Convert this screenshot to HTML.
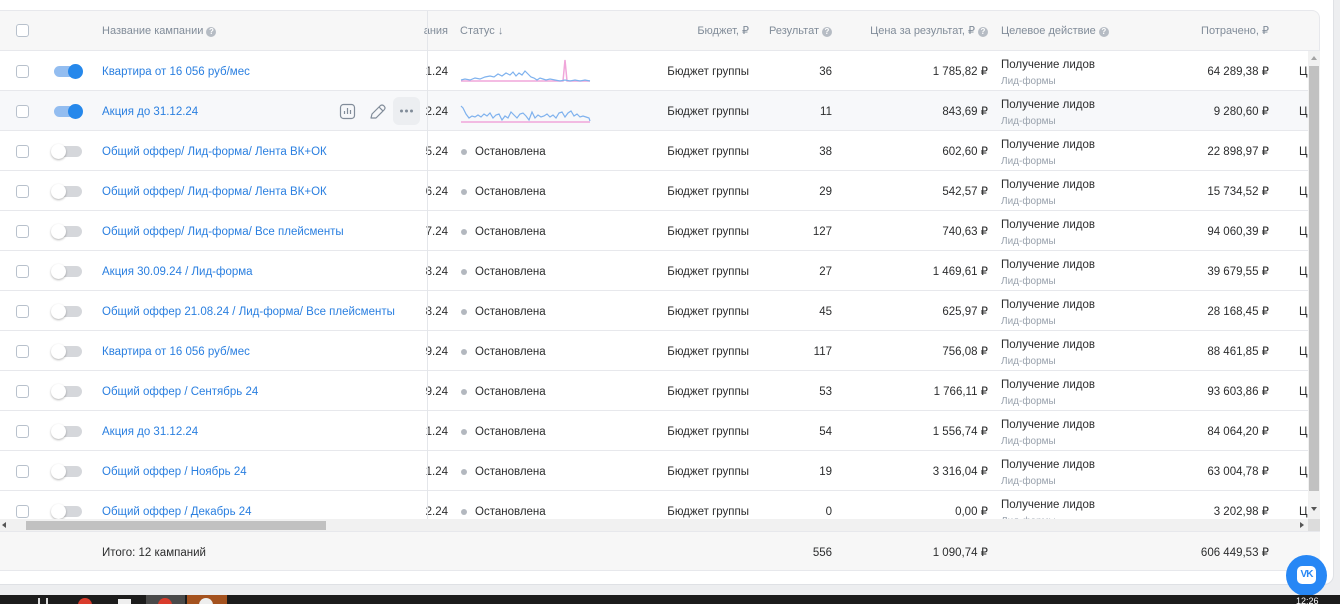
<!DOCTYPE html>
<html><head><meta charset="utf-8">
<style>
*{box-sizing:border-box}
body{margin:0;width:1340px;height:604px;overflow:hidden;background:#edeef0;font-family:"Liberation Sans","DejaVu Sans",sans-serif;}
#root{position:relative;width:1340px;height:604px;overflow:hidden;background:#edeef0;}
.a{position:absolute}
.card{left:-10px;top:-10px;width:1344px;height:595px;background:#fff;border:1px solid #dfe1e5;border-radius:10px}
.hdr{left:0;top:10px;width:1320px;height:41px;background:#f7f7f7;border-top:1px solid #e7e8ec;border-bottom:1px solid #e7e8ec;border-top-right-radius:8px;border-right:1px solid #e7e8ec}
.ht{position:absolute;white-space:nowrap;font-size:11px;line-height:13px;color:#818c99;top:14px;display:flex;align-items:center}
.q{display:inline-block;width:10px;height:10px;border-radius:50%;background:#b6bcc4;color:#fff;font-size:8px;line-height:10px;text-align:center;font-weight:bold;margin-left:3px}
.body{left:0;top:51px;width:1308px;height:468px;overflow:hidden}
.row{position:absolute;left:0;width:1308px;height:40px;background:#fff;border-bottom:1px solid #e7e8ec}
.row.h{background:#f7f8fa}
.cb{position:absolute;left:16px;top:14px;width:13px;height:13px;border:1px solid #b8c1cc;border-radius:3px;background:#fff}
.tr{position:absolute;left:54px;top:15px;width:28px;height:11px;border-radius:6px;background:#d5d7db}
.kn{position:absolute;left:51px;top:13px;width:15px;height:15px;border-radius:50%;background:#fff;box-shadow:0 1px 2px rgba(0,0,0,.3)}
.on .tr{background:#93bdf0}
.on .kn{left:68px;background:#2688eb;box-shadow:none}
.t{position:absolute;white-space:nowrap;font-size:11.5px;line-height:14px;color:#2c2d2e;top:14px}
.nm{left:102px;color:#2a7fe0}
.dt{right:860px}
.dot{position:absolute;left:461px;top:18px;width:6px;height:6px;border-radius:50%;background:#b3b8bf}
.st{left:475px}
.bu{right:559px}
.re{right:476px}
.pr{right:320px}
.g1{left:1001px;top:7px}
.g2{left:1001px;top:25px;font-size:10px;line-height:12px;color:#99a2ad}
.sp{right:39px}
.c{left:1299px}
.div{left:427px;top:11px;width:1px;height:508px;background:#e4e6ea}
.hs{left:0;top:519px;width:1308px;height:13px;background:#f1f1f1}
.vs{left:1308px;top:51px;width:12px;height:468px;background:#f1f1f1}
.ft{left:0;top:531px;width:1320px;height:40px;background:#f7f7f7;border-top:1px solid #e7e8ec;border-bottom:1px solid #e7e8ec}
.ftt{position:absolute;white-space:nowrap;font-size:11.5px;line-height:14px;color:#2c2d2e;top:14px}
.tb{left:0;top:595px;width:1340px;height:9px;background:#1c1c1c}
</style></head><body><div id="root">
<div class="a card"></div>

<!-- header -->
<div class="a hdr">
  <div class="cb" style="top:13px"></div>
  <div class="ht" style="left:102px">Название кампании<span class="q">?</span></div>
  <div class="ht" style="right:871px">ания</div>
  <div class="ht" style="left:460px">Статус&nbsp;↓</div>
  <div class="ht" style="right:570px">Бюджет, ₽</div>
  <div class="ht" style="right:487px">Результат<span class="q">?</span></div>
  <div class="ht" style="right:331px">Цена за результат, ₽<span class="q">?</span></div>
  <div class="ht" style="left:1001px">Целевое действие<span class="q">?</span></div>
  <div class="ht" style="right:50px">Потрачено, ₽</div>
</div>

<div class="a body">
<div class="row on" style="top:0"><div class="cb"></div><div class="tr"></div><div class="kn"></div><div class="t nm">Квартира от 16 056 руб/мес</div><div class="t dt">1.24</div><div class="t bu">Бюджет группы</div><div class="t re">36</div><div class="t pr">1 785,82 ₽</div><div class="t g1">Получение лидов</div><div class="t g2">Лид-формы</div><div class="t sp">64 289,38 ₽</div><div class="t c">Ц</div></div>
<div class="row on h" style="top:40px"><div class="cb"></div><div class="tr"></div><div class="kn"></div><div class="t nm">Акция до 31.12.24</div><div class="t dt">2.24</div><div class="t bu">Бюджет группы</div><div class="t re">11</div><div class="t pr">843,69 ₽</div><div class="t g1">Получение лидов</div><div class="t g2">Лид-формы</div><div class="t sp">9 280,60 ₽</div><div class="t c">Ц</div></div>
<div class="row" style="top:80px"><div class="cb"></div><div class="tr"></div><div class="kn"></div><div class="t nm">Общий оффер/ Лид-форма/ Лента ВК+ОК</div><div class="t dt">5.24</div><div class="dot"></div><div class="t st">Остановлена</div><div class="t bu">Бюджет группы</div><div class="t re">38</div><div class="t pr">602,60 ₽</div><div class="t g1">Получение лидов</div><div class="t g2">Лид-формы</div><div class="t sp">22 898,97 ₽</div><div class="t c">Ц</div></div>
<div class="row" style="top:120px"><div class="cb"></div><div class="tr"></div><div class="kn"></div><div class="t nm">Общий оффер/ Лид-форма/ Лента ВК+ОК</div><div class="t dt">6.24</div><div class="dot"></div><div class="t st">Остановлена</div><div class="t bu">Бюджет группы</div><div class="t re">29</div><div class="t pr">542,57 ₽</div><div class="t g1">Получение лидов</div><div class="t g2">Лид-формы</div><div class="t sp">15 734,52 ₽</div><div class="t c">Ц</div></div>
<div class="row" style="top:160px"><div class="cb"></div><div class="tr"></div><div class="kn"></div><div class="t nm">Общий оффер/ Лид-форма/ Все плейсменты</div><div class="t dt">7.24</div><div class="dot"></div><div class="t st">Остановлена</div><div class="t bu">Бюджет группы</div><div class="t re">127</div><div class="t pr">740,63 ₽</div><div class="t g1">Получение лидов</div><div class="t g2">Лид-формы</div><div class="t sp">94 060,39 ₽</div><div class="t c">Ц</div></div>
<div class="row" style="top:200px"><div class="cb"></div><div class="tr"></div><div class="kn"></div><div class="t nm">Акция 30.09.24 / Лид-форма</div><div class="t dt">8.24</div><div class="dot"></div><div class="t st">Остановлена</div><div class="t bu">Бюджет группы</div><div class="t re">27</div><div class="t pr">1 469,61 ₽</div><div class="t g1">Получение лидов</div><div class="t g2">Лид-формы</div><div class="t sp">39 679,55 ₽</div><div class="t c">Ц</div></div>
<div class="row" style="top:240px"><div class="cb"></div><div class="tr"></div><div class="kn"></div><div class="t nm">Общий оффер 21.08.24 / Лид-форма/ Все плейсменты</div><div class="t dt">8.24</div><div class="dot"></div><div class="t st">Остановлена</div><div class="t bu">Бюджет группы</div><div class="t re">45</div><div class="t pr">625,97 ₽</div><div class="t g1">Получение лидов</div><div class="t g2">Лид-формы</div><div class="t sp">28 168,45 ₽</div><div class="t c">Ц</div></div>
<div class="row" style="top:280px"><div class="cb"></div><div class="tr"></div><div class="kn"></div><div class="t nm">Квартира от 16 056 руб/мес</div><div class="t dt">9.24</div><div class="dot"></div><div class="t st">Остановлена</div><div class="t bu">Бюджет группы</div><div class="t re">117</div><div class="t pr">756,08 ₽</div><div class="t g1">Получение лидов</div><div class="t g2">Лид-формы</div><div class="t sp">88 461,85 ₽</div><div class="t c">Ц</div></div>
<div class="row" style="top:320px"><div class="cb"></div><div class="tr"></div><div class="kn"></div><div class="t nm">Общий оффер / Сентябрь 24</div><div class="t dt">9.24</div><div class="dot"></div><div class="t st">Остановлена</div><div class="t bu">Бюджет группы</div><div class="t re">53</div><div class="t pr">1 766,11 ₽</div><div class="t g1">Получение лидов</div><div class="t g2">Лид-формы</div><div class="t sp">93 603,86 ₽</div><div class="t c">Ц</div></div>
<div class="row" style="top:360px"><div class="cb"></div><div class="tr"></div><div class="kn"></div><div class="t nm">Акция до 31.12.24</div><div class="t dt">1.24</div><div class="dot"></div><div class="t st">Остановлена</div><div class="t bu">Бюджет группы</div><div class="t re">54</div><div class="t pr">1 556,74 ₽</div><div class="t g1">Получение лидов</div><div class="t g2">Лид-формы</div><div class="t sp">84 064,20 ₽</div><div class="t c">Ц</div></div>
<div class="row" style="top:400px"><div class="cb"></div><div class="tr"></div><div class="kn"></div><div class="t nm">Общий оффер / Ноябрь 24</div><div class="t dt">1.24</div><div class="dot"></div><div class="t st">Остановлена</div><div class="t bu">Бюджет группы</div><div class="t re">19</div><div class="t pr">3 316,04 ₽</div><div class="t g1">Получение лидов</div><div class="t g2">Лид-формы</div><div class="t sp">63 004,78 ₽</div><div class="t c">Ц</div></div>
<div class="row" style="top:440px"><div class="cb"></div><div class="tr"></div><div class="kn"></div><div class="t nm">Общий оффер / Декабрь 24</div><div class="t dt">2.24</div><div class="dot"></div><div class="t st">Остановлена</div><div class="t bu">Бюджет группы</div><div class="t re">0</div><div class="t pr">0,00 ₽</div><div class="t g1">Получение лидов</div><div class="t g2">Лид-формы</div><div class="t sp">3 202,98 ₽</div><div class="t c">Ц</div></div>
</div>

<div class="a div"></div>

<!-- sparklines & hover icons -->
<svg class="a" style="left:0;top:0" width="1340" height="604" viewBox="0 0 1340 604">
  <polyline fill="none" stroke="#f0a6da" stroke-width="1.5" points="461,81 563,81 565,60 567,81 590,81"/>
  <polyline fill="none" stroke="#7fb2ee" stroke-width="1.2" points="461,80 465,79 470,80 475,78 480,79 485,77 490,76 494,77 498,74 502,76 506,73 510,75 513,72 516,76 519,73 522,75 525,71 528,74 531,77 534,78 537,80 540,78 543,79 546,80 550,79 555,80 560,81 565,80 570,81 575,80 580,81 585,80 590,81"/>
  <polyline fill="none" stroke="#f0a6da" stroke-width="1.5" points="461,122 590,122"/>
  <polyline fill="none" stroke="#7fb2ee" stroke-width="1.2" points="461,106 463,108 466,114 469,118 472,116 475,117 478,115 481,117 484,114 487,116 490,113 493,118 496,115 499,114 502,120 505,116 508,118 511,112 514,115 517,118 520,114 523,113 526,116 529,120 532,112 535,118 538,115 541,117 544,116 547,114 550,117 553,115 556,118 559,113 562,112 565,117 568,113 571,111 574,116 577,114 580,117 583,116 586,117 589,118 590,121"/>
  <rect x="340.5" y="104.5" width="14" height="14" rx="3" fill="none" stroke="#818c99" stroke-width="1.2"/>
  <line x1="344.5" y1="114" x2="344.5" y2="111" stroke="#818c99" stroke-width="1.2"/>
  <line x1="347.5" y1="114" x2="347.5" y2="108" stroke="#818c99" stroke-width="1.2"/>
  <line x1="350.5" y1="114" x2="350.5" y2="110" stroke="#818c99" stroke-width="1.2"/>
  <path d="M371,118 L372,114 L380,106 Q382,104 384,106 Q386,108 384,110 L376,118 Z M379,107 L383,111" fill="none" stroke="#818c99" stroke-width="1.2" stroke-linejoin="round"/>
  <rect x="393" y="97" width="27" height="28" rx="6" fill="#eceef1"/>
  <circle cx="401.5" cy="111" r="1.5" fill="#818c99"/>
  <circle cx="406.5" cy="111" r="1.5" fill="#818c99"/>
  <circle cx="411.5" cy="111" r="1.5" fill="#818c99"/>
</svg>

<!-- scrollbars -->
<div class="a hs"></div>
<div class="a" style="left:26px;top:521px;width:300px;height:9px;background:#c1c1c1"></div>
<div class="a" style="left:2px;top:522px;width:0;height:0;border-top:3px solid transparent;border-bottom:3px solid transparent;border-right:4px solid #555"></div>
<div class="a" style="left:1300px;top:522px;width:0;height:0;border-top:3px solid transparent;border-bottom:3px solid transparent;border-left:4px solid #555"></div>
<div class="a vs"></div>
<div class="a" style="left:1309px;top:66px;width:10px;height:425px;background:#c1c1c1"></div>
<div class="a" style="left:1311px;top:56px;width:0;height:0;border-left:3px solid transparent;border-right:3px solid transparent;border-bottom:4px solid #a3a3a3"></div>
<div class="a" style="left:1311px;top:507px;width:0;height:0;border-left:3px solid transparent;border-right:3px solid transparent;border-top:4px solid #555"></div>
<div class="a" style="left:1308px;top:519px;width:12px;height:13px;background:#dcdcdc"></div>

<!-- footer -->
<div class="a ft">
  <div class="ftt" style="left:102px">Итого: 12 кампаний</div>
  <div class="ftt" style="right:488px">556</div>
  <div class="ftt" style="right:332px">1 090,74 ₽</div>
  <div class="ftt" style="right:51px">606 449,53 ₽</div>
</div>

<!-- vk button -->
<div class="a" style="left:1286px;top:555px;width:41px;height:41px;border-radius:50%;background:#2787f5"></div>
<div class="a" style="left:1297px;top:566px;width:19px;height:18px;border-radius:5px;background:#fff;color:#2787f5;font-size:10px;font-weight:bold;line-height:18px;text-align:center;letter-spacing:-1px">VK</div>

<!-- taskbar -->
<div class="a tb"></div>
<div class="a" style="left:38px;top:598px;width:2px;height:6px;background:#ddd"></div>
<div class="a" style="left:46px;top:598px;width:2px;height:6px;background:#ddd"></div>
<div class="a" style="left:78px;top:598px;width:14px;height:14px;border-radius:50%;background:#d93b2b"></div>
<div class="a" style="left:118px;top:599px;width:13px;height:6px;background:#eee"></div>
<div class="a" style="left:146px;top:595px;width:39px;height:9px;background:#4a4a4a"></div>
<div class="a" style="left:158px;top:598px;width:14px;height:14px;border-radius:50%;background:#d93b2b"></div>
<div class="a" style="left:187px;top:595px;width:40px;height:9px;background:#a4521f"></div>
<div class="a" style="left:199px;top:598px;width:14px;height:14px;border-radius:50%;background:#eee"></div>
<div class="a" style="left:1296px;top:596px;font-size:9px;line-height:10px;color:#fff;white-space:nowrap">12:26</div>
</div></body></html>
